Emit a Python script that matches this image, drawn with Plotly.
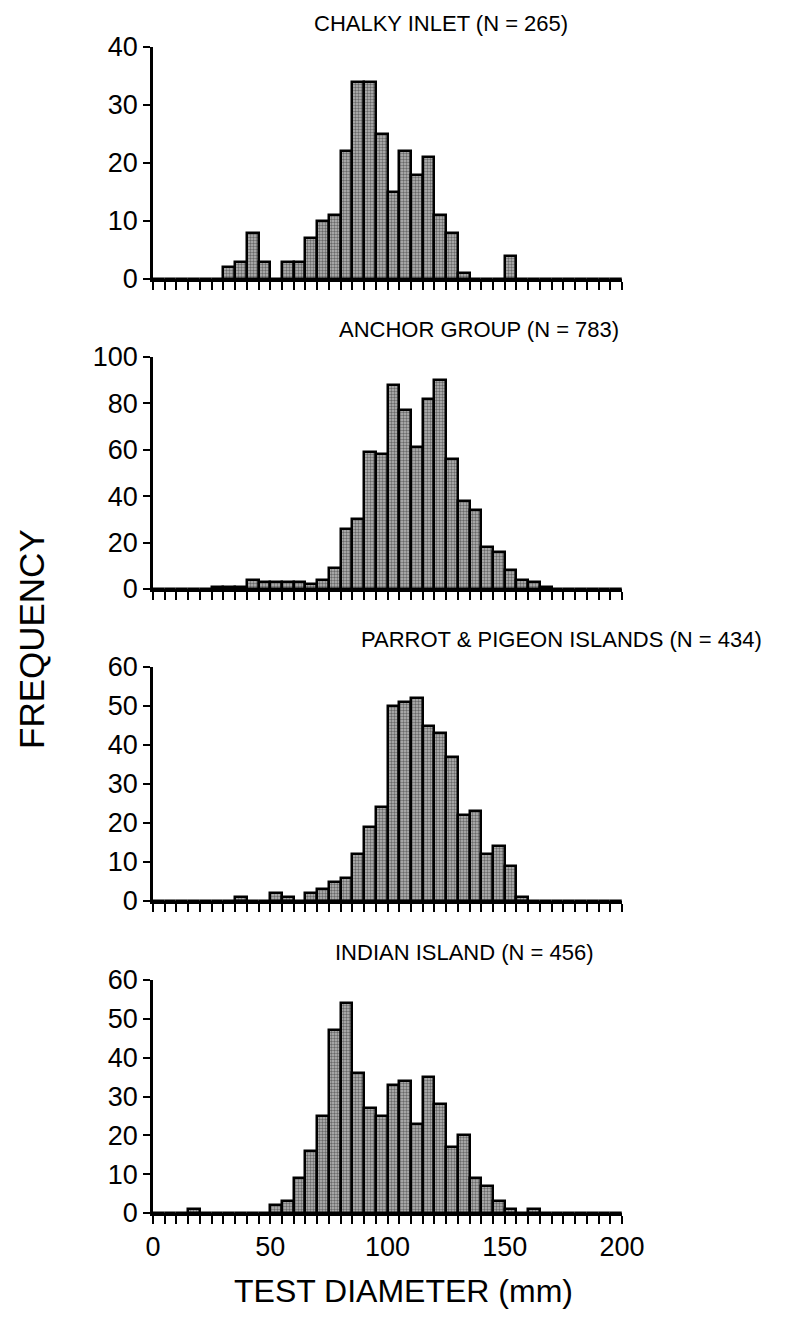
import plotly.graph_objects as go

# bin edges, 5 mm wide, 0..200
bin_edges = list(range(0, 205, 5))

chalky_counts = [0, 0, 0, 0, 0, 0, 2, 3, 8, 3, 0, 3, 3, 7, 10, 11, 22, 34, 34, 25,
                 15, 22, 18, 21, 11, 8, 1, 0, 0, 0, 4, 0, 0, 0, 0, 0, 0, 0, 0, 0]
anchor_counts = [0, 0, 0, 0, 0, 1, 1, 1, 4, 3, 3, 3, 3, 2, 4, 9, 26, 30, 59, 58,
                 88, 77, 61, 82, 90, 56, 38, 34, 18, 16, 8, 4, 3, 1, 0, 0, 0, 0, 0, 0]
parrot_counts = [0, 0, 0, 0, 0, 0, 0, 1, 0, 0, 2, 1, 0, 2, 3, 5, 6, 12, 19, 24,
                 50, 51, 52, 45, 43, 37, 22, 23, 12, 14, 9, 1, 0, 0, 0, 0, 0, 0, 0, 0]
indian_counts = [0, 0, 0, 1, 0, 0, 0, 0, 0, 0, 2, 3, 9, 16, 25, 47, 54, 36, 27, 25,
                 33, 34, 23, 35, 28, 17, 20, 9, 7, 3, 1, 0, 1, 0, 0, 0, 0, 0, 0, 0]

panel_titles = ["CHALKY INLET (N = 265)", "ANCHOR GROUP (N = 783)",
                "PARROT & PIGEON ISLANDS (N = 434)", "INDIAN ISLAND (N = 456)"]
y_maxes = [40, 100, 60, 60]
y_dticks = [10, 20, 10, 10]
x_tick_labels = ["0", "50", "100", "150", "200"]
x_title = "TEST DIAMETER (mm)"
y_title = "FREQUENCY"

W, H = 803, 1337
OFF = 7  # page offset of the rendered figure
FONT = "Liberation Sans, Arial, sans-serif"

centers = [(a + b) / 2 for a, b in zip(bin_edges[:-1], bin_edges[1:])]
widths = [b - a for a, b in zip(bin_edges[:-1], bin_edges[1:])]

# pixel geometry of each panel (top, bottom) in the target picture
panel_px = [(46, 278), (356, 588), (666, 900), (979, 1212)]
x_px = (152, 621)
title_px = [(440, 23), (478, 328), (560, 638), (463, 951)]


def px_x(v):
    return (v - OFF) / W


def px_y(v):
    return 1 - (v - OFF) / H


fig = go.Figure()
all_counts = [chalky_counts, anchor_counts, parrot_counts, indian_counts]

xtickvals = bin_edges
xticktext = [str(v) if str(v) in x_tick_labels else "" for v in bin_edges]

for i, counts in enumerate(all_counts):
    xa = "x" if i == 0 else f"x{i+1}"
    ya = "y" if i == 0 else f"y{i+1}"
    fig.add_trace(go.Bar(
        x=centers, y=counts, width=widths, xaxis=xa, yaxis=ya,
        marker=dict(color="#8f8f8f",
                    line=dict(color="black", width=2.5),
                    pattern=dict(shape=".", fgcolor="#1a1a1a", bgcolor="#b8b8b8",
                                 size=3, solidity=0.5)),
        showlegend=False, hoverinfo="x+y"))
    top, bot = panel_px[i]
    xkey = "xaxis" if i == 0 else f"xaxis{i+1}"
    ykey = "yaxis" if i == 0 else f"yaxis{i+1}"
    fig.layout[xkey] = dict(
        domain=[px_x(x_px[0]), px_x(x_px[1])], anchor=ya, range=[0, 200],
        tickmode="array", tickvals=xtickvals, ticktext=xticktext,
        showticklabels=(i == 3), ticks="outside", ticklen=8, tickwidth=2,
        tickcolor="black", showline=True, linecolor="black", linewidth=2.5,
        showgrid=False, zeroline=False, automargin=False,
        tickfont=dict(family=FONT, size=27, color="black"))
    fig.layout[ykey] = dict(
        domain=[px_y(bot), px_y(top)], anchor=xa, range=[0, y_maxes[i]],
        tickmode="linear", tick0=0, dtick=y_dticks[i],
        ticks="outside", ticklen=7, tickwidth=2, tickcolor="black",
        showline=True, linecolor="black", linewidth=2.5,
        showgrid=False, zeroline=False, automargin=False,
        tickfont=dict(family=FONT, size=27, color="black"))
    tx, ty = title_px[i]
    fig.add_annotation(x=px_x(tx), y=px_y(ty), xref="paper", yref="paper",
                       text=panel_titles[i], showarrow=False,
                       font=dict(family=FONT, size=22, color="black"),
                       xanchor="center", yanchor="middle")

fig.add_annotation(x=px_x(30), y=px_y(638), xref="paper", yref="paper",
                   text=y_title, showarrow=False, textangle=-90,
                   font=dict(family=FONT, size=35, color="black"),
                   xanchor="center", yanchor="middle")
fig.add_annotation(x=px_x(402), y=px_y(1290), xref="paper", yref="paper",
                   text=x_title, showarrow=False,
                   font=dict(family=FONT, size=32, color="black"),
                   xanchor="center", yanchor="middle")

fig.update_layout(width=W, height=H,
                  margin=dict(l=0, r=0, t=0, b=0, autoexpand=False),
                  paper_bgcolor="white", plot_bgcolor="white",
                  bargap=0, barmode="overlay")

fig.write_html("out.html")
